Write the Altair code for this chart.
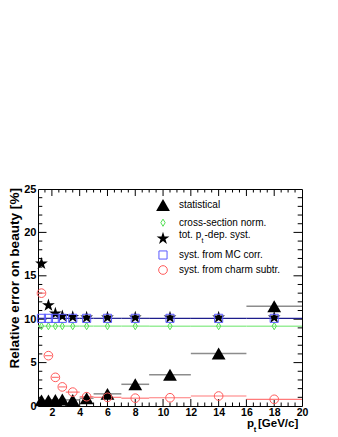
import altair as alt
import pandas as pd

# ---- data ----
pt_center = [1.25, 1.75, 2.25, 2.75, 3.5, 4.5, 6, 8, 10.5, 14, 18]
pt_lo = [1, 1.5, 2, 2.5, 3, 4, 5, 7, 9, 12, 16]
pt_hi = [1.5, 2, 2.5, 3, 4, 5, 7, 9, 12, 16, 20]
statistical = [0.65, 0.65, 0.7, 0.75, 0.7, 0.9, 1.4, 2.5, 3.6, 6.05, 11.5]
xsec_norm = [9.2, 9.2, 9.2, 9.2, 9.2, 9.2, 9.2, 9.2, 9.2, 9.2, 9.2]
tot_syst = [16.4, 11.6, 10.65, 10.35, 10.25, 10.2, 10.2, 10.2, 10.2, 10.2, 10.2]
mc_corr = [10.1, 10.1, 10.1, 10.1, 10.1, 10.1, 10.1, 10.1, 10.1, 10.1, 10.1]
charm_subtr = [13.0, 5.8, 3.3, 2.2, 1.6, 1.07, 1.0, 0.9, 0.95, 1.15, 0.77]

x_labels = [2, 4, 6, 8, 10, 12, 14, 16, 18, 20]
y_labels = [0, 5, 10, 15, 20, 25]
x_major_ticks = [2, 4, 6, 8, 10, 12, 14, 16, 18]
x_minor_ticks = [1.5, 2.5, 3, 3.5, 4.5, 5, 5.5, 6.5, 7, 7.5, 8.5, 9, 9.5, 10.5, 11, 11.5,
                 12.5, 13, 13.5, 14.5, 15, 15.5, 16.5, 17, 17.5, 18.5, 19, 19.5]
y_major_ticks = [5, 10, 15, 20]
y_minor_ticks = [1, 2, 3, 4, 6, 7, 8, 9, 11, 12, 13, 14, 16, 17, 18, 19, 21, 22, 23, 24]

legend_labels = ["statistical", "cross-section norm.", "", "syst. from MC corr.",
                 "syst. from charm subtr."]

W, H = 264, 217
FONT = "Liberation Sans"

df = pd.DataFrame({
    "pt": pt_center, "lo": pt_lo, "hi": pt_hi,
    "stat": statistical, "xsec": xsec_norm, "tot": tot_syst,
    "mc": mc_corr, "charm": charm_subtr,
})

xs = alt.Scale(domain=[1, 20], nice=False, zero=False)
ys = alt.Scale(domain=[0, 25], nice=False, zero=False)
xaxis = alt.Axis(values=x_labels, orient="bottom", ticks=False, domain=False, grid=False,
                 title=None, labelFont=FONT, labelFontWeight="bold", labelFontSize=10.5,
                 labelColor="black", labelPadding=1.5, labelFlush=False)
yaxis = alt.Axis(values=y_labels, orient="left", ticks=False, domain=False, grid=False,
                 title=None, labelFont=FONT, labelFontWeight="bold", labelFontSize=11,
                 labelColor="black", labelPadding=2)


def X(f):
    return alt.X(f, type="quantitative", scale=xs, axis=xaxis)


def Y(f):
    return alt.Y(f, type="quantitative", scale=ys, axis=yaxis)


base = alt.Chart(df)

stat_bars = base.mark_rule(color="#8c8c8c", strokeWidth=1.5).encode(
    x=X("lo"), x2="hi", y=Y("stat"))
xsec_line = base.mark_rule(color="#99ee99", strokeWidth=1.5).encode(
    x=X("lo"), x2="hi", y=Y("xsec"))
mc_line = base.mark_rule(color="#1c1c8c", strokeWidth=1.2).encode(
    x=X("lo"), x2="hi", y=Y("mc"))
charm_bars = base.mark_rule(color="#ff7a7a", strokeWidth=1.2).encode(
    x=X("lo"), x2="hi", y=Y("charm"))

DIAMOND = "M0,-1L0.6,0L0,1L-0.6,0Z"
STAR = ("M0,-1L0.2245,-0.309L0.9511,-0.309L0.3633,0.118L0.5878,0.809L0,0.382"
        "L-0.5878,0.809L-0.3633,0.118L-0.9511,-0.309L-0.2245,-0.309Z")

TRI_S, DIA_S, STAR_S, SQ_S, CIRC_S = 190, 52, 180, 66, 75

tri = base.mark_point(shape="triangle-up", filled=True, color="black", size=TRI_S,
                      opacity=1).encode(x=X("pt"), y=Y("stat"))
dia = base.mark_point(shape=DIAMOND, filled=False, color="#55e055", size=DIA_S,
                      strokeWidth=1, opacity=1).encode(x=X("pt"), y=Y("xsec"))
star = base.mark_point(shape=STAR, filled=True, color="black", size=STAR_S,
                       opacity=1).encode(x=X("pt"), y=Y("tot"))
sq = base.mark_point(shape="square", filled=False, color="#5a5aff", size=SQ_S,
                     strokeWidth=1, opacity=1).encode(x=X("pt"), y=Y("mc"))
circ = base.mark_point(shape="circle", filled=False, color="#ff5a5a", size=CIRC_S,
                       strokeWidth=1, opacity=1).encode(x=X("pt"), y=Y("charm"))


def ticks_x(vals, length):
    d = alt.Chart(pd.DataFrame({"v": vals}))
    top = d.mark_rule(color="black", strokeWidth=1).encode(
        x=X("v"), y=alt.value(0), y2=alt.value(length))
    bot = d.mark_rule(color="black", strokeWidth=1).encode(
        x=X("v"), y=alt.value(H - length), y2=alt.value(H))
    return [top, bot]


def ticks_y(vals, length):
    d = alt.Chart(pd.DataFrame({"v": vals}))
    left = d.mark_rule(color="black", strokeWidth=1).encode(
        y=Y("v"), x=alt.value(0), x2=alt.value(length))
    right = d.mark_rule(color="black", strokeWidth=1).encode(
        y=Y("v"), x=alt.value(W - length), x2=alt.value(W))
    return [left, right]


tick_layers = (ticks_x(x_major_ticks, 7) + ticks_x(x_minor_ticks, 3.5)
               + ticks_y(y_major_ticks, 8.5) + ticks_y(y_minor_ticks, 4.3))


def txt(s, x, y, size=10, weight="normal", align="left", baseline="alphabetic", angle=0):
    return alt.Chart(pd.DataFrame({"t": [s]})).mark_text(
        font=FONT, fontSize=size, fontWeight=weight, align=align, baseline=baseline,
        color="black", angle=angle).encode(x=alt.value(x), y=alt.value(y), text="t:N")


def sym(shape, x, y, size, color, filled, sw=1):
    return alt.Chart(pd.DataFrame({"t": [0]})).mark_point(
        shape=shape, size=size, color=color, filled=filled, strokeWidth=sw,
        opacity=1).encode(x=alt.value(x), y=alt.value(y))


LX, TX = 125, 141
legend = [
    sym("triangle-up", LX, 16, TRI_S, "black", True),
    txt(legend_labels[0], TX, 16, baseline="middle"),
    sym(DIAMOND, LX, 33.7, DIA_S, "#55e055", False),
    txt(legend_labels[1], TX, 33.7, baseline="middle"),
    sym(STAR, LX, 49.5, STAR_S, "black", True),
    txt("tot. p", TX, 46, baseline="middle"),
    txt("t", TX + 22.4, 51.5, size=7, baseline="middle"),
    txt("-dep. syst.", TX + 25.5, 46, baseline="middle"),
    sym("square", LX, 66, SQ_S, "#5a5aff", False),
    txt(legend_labels[3], TX, 66, baseline="middle"),
    sym("circle", LX, 81, CIRC_S, "#ff5a5a", False),
    txt(legend_labels[4], TX, 81, baseline="middle"),
]

titles = [
    txt("Relative error on beauty [%]", -23.5, -1, size=13.6, weight="bold",
        align="right", baseline="middle", angle=270),
    txt("p", 209, 237.5, size=11.5, weight="bold"),
    txt("t", 215.8, 242.5, size=7.5, weight="bold"),
    txt("[GeV/c]", 220, 237.5, size=11.5, weight="bold"),
]

chart = alt.layer(
    *tick_layers, stat_bars, xsec_line, mc_line, charm_bars,
    tri, dia, star, sq, circ, *legend, *titles
).properties(
    width=W, height=H,
    autosize=alt.AutoSizeParams(type="none"),
    padding={"left": 30, "top": 181, "right": 20, "bottom": 29},
).configure_view(stroke="black", strokeWidth=1)

chart.save("out.html", embed_options={"renderer": "svg", "actions": False})
